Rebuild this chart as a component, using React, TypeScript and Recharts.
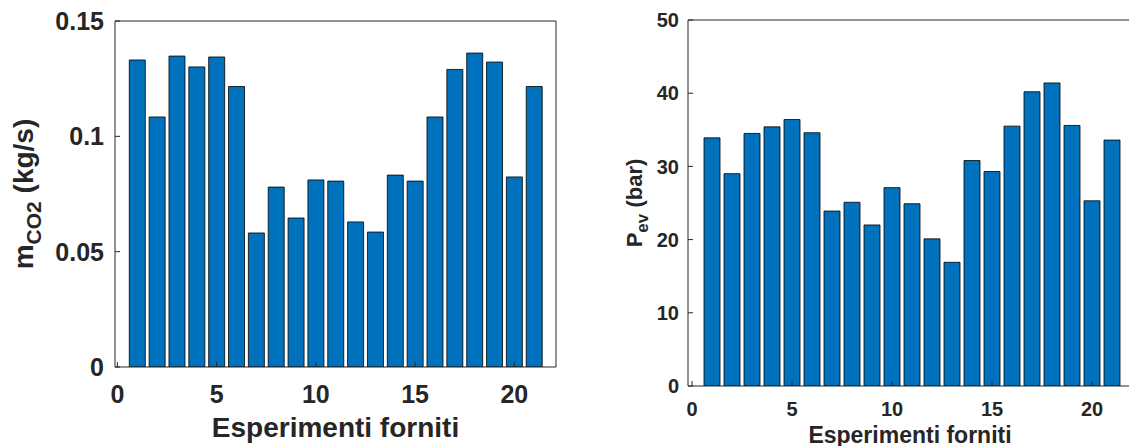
import React from "react";
import { Bar, BarChart, XAxis, YAxis } from "recharts";

// numero esperimento
const experiments = [1, 2, 3, 4, 5, 6, 7, 8, 9, 10, 11, 12, 13, 14, 15, 16, 17, 18, 19, 20, 21];

// portata CO2 (kg/s)
const mCO2 = [
  0.1331, 0.1084, 0.1348, 0.1301, 0.1344, 0.1216, 0.0581, 0.078, 0.0646, 0.0811, 0.0806,
  0.0629, 0.0585, 0.0832, 0.0806, 0.1084, 0.129, 0.1361, 0.1322, 0.0824, 0.1216,
];

// pressione evaporatore (bar)
const pEv = [
  33.9, 29.0, 34.5, 35.4, 36.4, 34.6, 23.9, 25.1, 22.0, 27.1, 24.9, 20.1, 16.9, 30.8, 29.3,
  35.5, 40.2, 41.4, 35.6, 25.3, 33.6,
];

const xTicks = [0, 5, 10, 15, 20];
const mTicks = [0, 0.05, 0.1, 0.15];
const pTicks = [0, 10, 20, 30, 40, 50];

const xLabel = "Esperimenti forniti";

const data = experiments.map((x, i) => ({ x, m: mCO2[i], p: pEv[i] }));

const TEXT = "#262626";
const BLUE = "#0072BD";

function YLabel({ cx, cy, main, sub, rest, size, subSize, shift }: any) {
  return (
    <text
      x={cx}
      y={cy}
      transform={`rotate(-90 ${cx} ${cy})`}
      textAnchor="middle"
      fontSize={size}
      fontWeight="bold"
      fill={TEXT}
    >
      {main}
      <tspan fontSize={subSize} dy={shift}>
        {sub}
      </tspan>
      <tspan dy={-shift}>{rest}</tspan>
    </text>
  );
}

export default function App() {
  return (
    <div
      style={{
        position: "absolute",
        left: 0,
        top: 0,
        width: 1129,
        height: 446,
        overflow: "hidden",
        background: "#fff",
        fontFamily: "'Liberation Sans', Arial, Helvetica, sans-serif",
      }}
    >
      {/* grafico sinistro: portata */}
      <div style={{ position: "absolute", left: 0, top: 0 }}>
        <BarChart
          width={570}
          height={446}
          data={data}
          margin={{ top: 20, right: 13, left: 0, bottom: 0 }}
          barCategoryGap="10%"
          barGap={0}
        >
          <XAxis
            xAxisId="b"
            dataKey="x"
            type="number"
            domain={[-0.12, 22.1]}
            ticks={xTicks}
            allowDataOverflow
            height={79}
            tickSize={-5}
            tickMargin={23}
            stroke={TEXT}
            tick={{ fontSize: 25, fontWeight: "bold", fill: TEXT }}
            label={(props: any) => {
              const vb = props.viewBox;
              return (
                <text
                  x={vb.x + vb.width / 2}
                  y={vb.y + 70}
                  textAnchor="middle"
                  fontSize={28}
                  fontWeight="bold"
                  fill={TEXT}
                >
                  {xLabel}
                </text>
              );
            }}
          />
          <XAxis
            xAxisId="t"
            orientation="top"
            dataKey="x"
            type="number"
            domain={[-0.12, 22.1]}
            ticks={xTicks}
            allowDataOverflow
            height={1}
            tickSize={-5}
            stroke={TEXT}
            tick={false}
          />
          <YAxis
            yAxisId="l"
            type="number"
            domain={[0, 0.15]}
            ticks={mTicks}
            allowDataOverflow
            width={115}
            tickSize={-5}
            tickMargin={16}
            stroke={TEXT}
            tick={{ fontSize: 25, fontWeight: "bold", fill: TEXT }}
            label={(props: any) => {
              const vb = props.viewBox;
              return (
                <YLabel
                  cx={33}
                  cy={vb.y + vb.height / 2}
                  main="m"
                  sub="CO2"
                  rest=" (kg/s)"
                  size={28}
                  subSize={21}
                  shift={8}
                />
              );
            }}
          />
          <YAxis
            yAxisId="r"
            orientation="right"
            type="number"
            domain={[0, 0.15]}
            ticks={mTicks}
            allowDataOverflow
            width={1}
            tickSize={-5}
            stroke={TEXT}
            tick={false}
          />
          <Bar
            xAxisId="b"
            yAxisId="l"
            dataKey="m"
            fill={BLUE}
            stroke="#000"
            strokeWidth={0.8}
            isAnimationActive={false}
          />
        </BarChart>
      </div>

      {/* grafico destro: pressione */}
      <div style={{ position: "absolute", left: 570, top: 0 }}>
        <BarChart
          width={600}
          height={446}
          data={data}
          margin={{ top: 19, right: 37, left: 0, bottom: 0 }}
          barCategoryGap="10%"
          barGap={0}
        >
          <XAxis
            xAxisId="b"
            dataKey="x"
            type="number"
            domain={[-0.2, 22]}
            ticks={xTicks}
            allowDataOverflow
            height={60}
            tickSize={-5}
            tickMargin={21}
            stroke={TEXT}
            tick={{ fontSize: 20, fontWeight: "bold", fill: TEXT }}
            label={(props: any) => {
              const vb = props.viewBox;
              return (
                <text
                  x={vb.x + vb.width / 2}
                  y={vb.y + 57}
                  textAnchor="middle"
                  fontSize={23}
                  fontWeight="bold"
                  fill={TEXT}
                >
                  {xLabel}
                </text>
              );
            }}
          />
          <XAxis
            xAxisId="t"
            orientation="top"
            dataKey="x"
            type="number"
            domain={[-0.2, 22]}
            ticks={xTicks}
            allowDataOverflow
            height={1}
            tickSize={-5}
            stroke={TEXT}
            tick={false}
          />
          <YAxis
            yAxisId="l"
            type="number"
            domain={[0, 50]}
            ticks={pTicks}
            allowDataOverflow
            width={118}
            tickSize={-5}
            tickMargin={14}
            stroke={TEXT}
            tick={{ fontSize: 20, fontWeight: "bold", fill: TEXT }}
            label={(props: any) => {
              const vb = props.viewBox;
              return (
                <YLabel
                  cx={72}
                  cy={vb.y + vb.height / 2}
                  main="P"
                  sub="ev"
                  rest=" (bar)"
                  size={22}
                  subSize={17}
                  shift={6}
                />
              );
            }}
          />
          <YAxis
            yAxisId="r"
            orientation="right"
            type="number"
            domain={[0, 50]}
            ticks={pTicks}
            allowDataOverflow
            width={1}
            tickSize={-5}
            stroke={TEXT}
            tick={false}
          />
          <Bar
            xAxisId="b"
            yAxisId="l"
            dataKey="p"
            fill={BLUE}
            stroke="#000"
            strokeWidth={0.8}
            isAnimationActive={false}
          />
        </BarChart>
      </div>
    </div>
  );
}
